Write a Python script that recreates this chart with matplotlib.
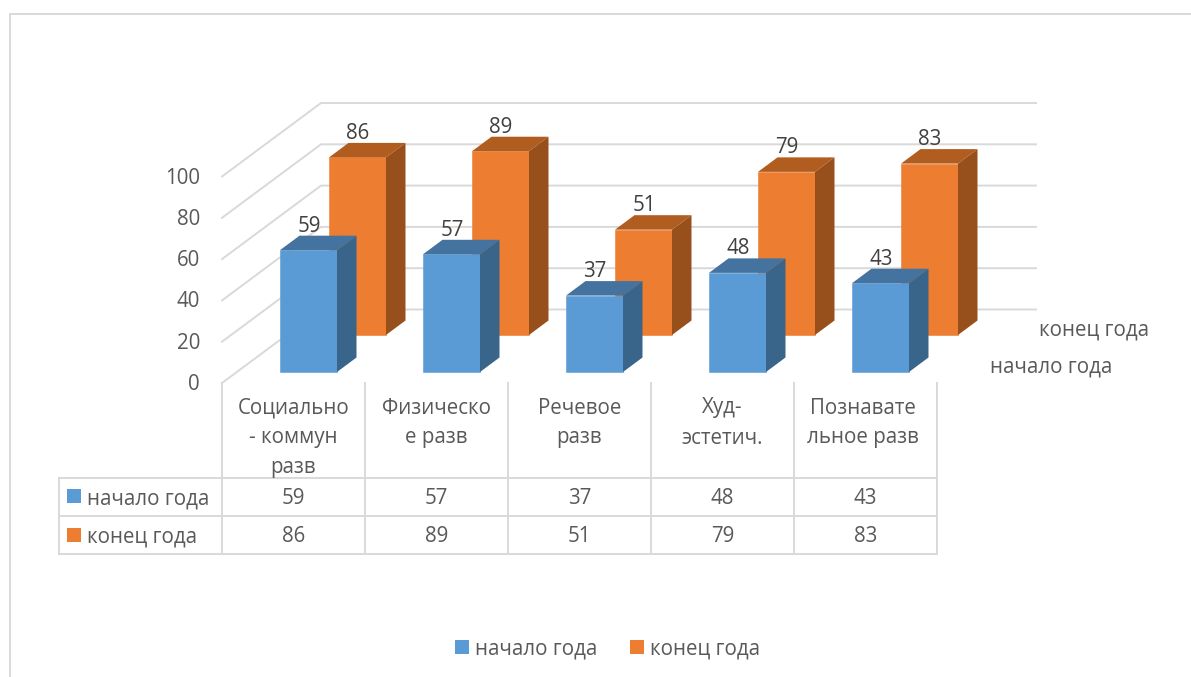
import matplotlib
matplotlib.use('Agg')
import matplotlib.pyplot as plt
from matplotlib.patches import Polygon, Rectangle

plt.rcParams['font.family'] = ['Open Sans', 'DejaVu Sans']

categories = ['Социально\n- коммун\nразв', 'Физическо\nе разв', 'Речевое\nразв',
              'Худ-\nэстетич.', 'Познавате\nльное разв']
start_year = [59, 57, 37, 48, 43]
end_year = [86, 89, 51, 79, 83]
series_names = ['начало года', 'конец года']
axis_ticks = [0, 20, 40, 60, 80, 100]

GRID = '#D9D9D9'
TEXT = '#595959'
LABEL = '#404040'
BLUE = ('#5B9BD5', '#44739F', '#3A658B')
ORANGE = ('#ED7D31', '#B15D20', '#97501C')
FS = 14.8

# pixels per category / per value unit
PX_CAT = 143.0
PX_VAL = 2.065
W, H = 1191, 677
ZERO_X, ZERO_Y = 308.5, 372.0  # first blue bar centre, blue floor


def cx(px):
    return (px - ZERO_X) / PX_CAT


def cy(px):
    return (ZERO_Y - px) / PX_VAL


fig = plt.figure(figsize=(W / 100, H / 100), dpi=100, facecolor='white')

# pixel layer for frame, wall and table
bg = fig.add_axes([0, 0, 1, 1])
bg.set_xlim(0, W)
bg.set_ylim(H, 0)
bg.axis('off')

# data layer: x in categories, y in values
ax = fig.add_axes([0, 0, 1, 1])
ax.set_xlim(cx(0), cx(W))
ax.set_ylim(cy(H), cy(0))
ax.axis('off')
ax.patch.set_alpha(0)

lw = 1.4
bg.plot([9.5, 9.5, W], [H, 14, 14], color=GRID, lw=lw)

# walls
for t in axis_ticks:
    y_front = 383 - t * PX_VAL
    y_back = 309.5 - t * PX_VAL
    ax.plot([cx(222), cx(321), cx(1036)], [cy(y_front), cy(y_back), cy(y_back)],
            color=GRID, lw=lw)
    bg.text(200, 384.5 - t * PX_VAL, str(t), ha='right', va='center', color=TEXT, fontsize=FS)


def draw_bar(i, value, colors, off_x, off_y, zorder):
    # off_x, off_y: series shift into the depth of the chart, in pixels
    dx = 19.5 / PX_CAT
    dy = 14.5 / PX_VAL
    half = 57 / PX_CAT / 2
    x0 = i + off_x / PX_CAT
    y0 = off_y / PX_VAL
    ax.bar(x0, value, width=2 * half, bottom=y0, color=colors[0], zorder=zorder,
           edgecolor=colors[0], linewidth=0.4)
    top = y0 + value
    ax.add_patch(Polygon([(x0 - half, top), (x0 + half, top), (x0 + half + dx, top + dy),
                          (x0 - half + dx, top + dy)], color=colors[1], lw=0, zorder=zorder))
    ax.add_patch(Polygon([(x0 + half, y0), (x0 + half + dx, y0 + dy), (x0 + half + dx, top + dy),
                          (x0 + half, top)], color=colors[2], lw=0, zorder=zorder))
    ax.text(x0 + 0.5 / PX_CAT, top + dy + 9.5 / PX_VAL, str(value), ha='center', va='center',
            color=LABEL, fontsize=FS, zorder=20)


for i, v in enumerate(end_year):
    draw_bar(i, v, ORANGE, 49, 37, 3)
for i, v in enumerate(start_year):
    draw_bar(i, v, BLUE, 0, 0, 5)

# depth axis names
bg.text(1039, 330, series_names[1], ha='left', va='center', color=TEXT, fontsize=FS)
ax.text(cx(990), cy(367), series_names[0], ha='left', va='center', color=TEXT, fontsize=FS)

# data table
col_x = [222 + 143 * k for k in range(6)]
row_y = [478, 516, 554]
for x in col_x:
    bg.plot([x, x], [383, row_y[-1]], color=GRID, lw=lw)
for y in row_y:
    bg.plot([59, col_x[-1]], [y, y], color=GRID, lw=lw)
bg.plot([59, 59], [row_y[0], row_y[-1]], color=GRID, lw=lw)

name_nudge = [0, 0, 0, 0, -3]
for k, name in enumerate(categories):
    mid = col_x[k] + 71.5
    for j, line in enumerate(name.split('\n')):
        bg.text(mid + name_nudge[k], 408 + 30 * j, line, ha='center', va='center',
                color=TEXT, fontsize=FS)
    bg.text(mid, 499, str(start_year[k]), ha='center', va='center', color=TEXT, fontsize=FS)
    bg.text(mid, 537, str(end_year[k]), ha='center', va='center', color=TEXT, fontsize=FS)

for r, (name, col) in enumerate(zip(series_names, (BLUE[0], ORANGE[0]))):
    bg.add_patch(Rectangle((67, 489 + 38.5 * r), 14, 14, color=col, lw=0))
    bg.text(87, 499 + 38 * r, name, ha='left', va='center', color=TEXT, fontsize=FS)

# legend
for x, name, col in zip((455, 630), series_names, (BLUE[0], ORANGE[0])):
    bg.add_patch(Rectangle((x, 640), 14, 14, color=col, lw=0))
    bg.text(x + 20, 649, name, ha='left', va='center', color=TEXT, fontsize=FS)

fig.savefig('out.png', dpi=100)
